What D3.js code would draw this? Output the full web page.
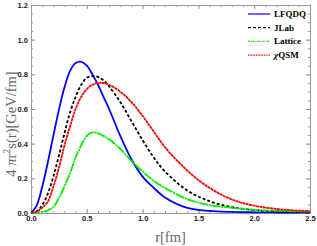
<!DOCTYPE html>
<html lang="en">
  <head>
    <meta charset="UTF-8" />
    <style>
      body { margin: 0; background: #fff; }
      .tick text { font-family: "Liberation Sans", Arial, sans-serif; font-weight: bold; font-size: 7.5px; fill: #222; }
      .tick line { stroke: #999; }
      .title { font-family: "Liberation Serif", "Times New Roman", serif; fill: #666; font-size: 14.5px; }
      .legend text { font-family: "Liberation Serif", "Times New Roman", serif; font-weight: bold; font-size: 9px; fill: #000; }
    </style>
    <title>4 pi r^2 s(r)</title>
  </head>
  <body>
    <script src="https://cdn.jsdelivr.net/npm/d3@7"></script>
    <script>
      // sample radii (fm)
      const rGrid = [0, 0.05, 0.1, 0.15, 0.2, 0.25, 0.3, 0.35, 0.4, 0.45, 0.5, 0.55, 0.6, 0.65, 0.7,
        0.8, 0.9, 1.0, 1.1, 1.2, 1.4, 1.6, 1.8, 2.0, 2.25, 2.5];

      const lfqdq = [0, 0.042, 0.15, 0.29, 0.445, 0.595, 0.725, 0.82, 0.865, 0.872, 0.85, 0.8, 0.74,
        0.67, 0.6, 0.445, 0.31, 0.21, 0.145, 0.09, 0.03, 0.012, 0.006, 0.004, 0.003, 0.002];
      const jlab = [0, 0.01, 0.045, 0.11, 0.21, 0.33, 0.46, 0.58, 0.67, 0.74, 0.78, 0.79, 0.785,
        0.765, 0.73, 0.64, 0.53, 0.42, 0.32, 0.24, 0.13, 0.068, 0.034, 0.017, 0.008, 0.004];
      const lattice = [0, 0.002, 0.006, 0.015, 0.035, 0.085, 0.155, 0.23, 0.32, 0.39, 0.445, 0.465,
        0.46, 0.445, 0.425, 0.37, 0.3, 0.24, 0.185, 0.145, 0.08, 0.045, 0.03, 0.018, 0.012, 0.008];
      const chiqsm = [0, 0.008, 0.03, 0.065, 0.15, 0.26, 0.39, 0.5, 0.6, 0.67, 0.715, 0.74, 0.75,
        0.75, 0.74, 0.7, 0.64, 0.56, 0.47, 0.38, 0.245, 0.145, 0.078, 0.042, 0.02, 0.011];

      const seriesNames = ["LFQDQ", "JLab", "Lattice", "\u03c7QSM"];
      const xTicks = [0, 0.5, 1.0, 1.5, 2.0, 2.5];
      const yTicks = [0, 0.2, 0.4, 0.6, 0.8, 1.0, 1.2];

      const width = 317;
      const height = 246;
      const margin = { left: 31, right: 7, top: 5, bottom: 33 };

      const series = [
        { name: seriesNames[0], values: lfqdq, color: "#0000ff", dash: null, key: null },
        { name: seriesNames[1], values: jlab, color: "#000000", dash: "3,2", key: "3,2" },
        { name: seriesNames[2], values: lattice, color: "#00ee00", dash: "9,0.8,2,0.8", key: "2,1,0.8,1" },
        { name: seriesNames[3], values: chiqsm, color: "#ff0000", dash: "3,0.5", key: "1,0.6" }
      ];

      const x = d3.scaleLinear().domain([0, 2.5]).range([margin.left, width - margin.right]);
      const y = d3.scaleLinear().domain([0, 1.2]).range([height - margin.bottom, margin.top]);

      const svg = d3.select("body").append("svg")
        .attr("width", width)
        .attr("height", height);

      const fmt = d3.format(".1f");
      const xMinor = d3.range(0, 2.51, 0.1);
      const yMinor = d3.range(0, 1.201, 0.05);

      function addAxis(axis, tx, ty) {
        const g = svg.append("g").attr("transform", "translate(" + tx + "," + ty + ")").call(axis);
        g.select(".domain").remove();
        return g;
      }

      // minor ticks
      addAxis(d3.axisBottom(x).tickValues(xMinor).tickFormat("").tickSize(-2), 0, y(0));
      addAxis(d3.axisTop(x).tickValues(xMinor).tickFormat("").tickSize(-2), 0, y(1.2));
      addAxis(d3.axisLeft(y).tickValues(yMinor).tickFormat("").tickSize(-2), x(0), 0);
      addAxis(d3.axisRight(y).tickValues(yMinor).tickFormat("").tickSize(-2), x(2.5), 0);

      // major ticks
      addAxis(d3.axisBottom(x).tickValues(xTicks).tickFormat(fmt).tickSize(-4).tickPadding(3), 0, y(0));
      addAxis(d3.axisTop(x).tickValues(xTicks).tickFormat("").tickSize(-4), 0, y(1.2));
      addAxis(d3.axisLeft(y).tickValues(yTicks).tickFormat(fmt).tickSize(-4).tickPadding(3), x(0), 0);
      addAxis(d3.axisRight(y).tickValues(yTicks).tickFormat("").tickSize(-4), x(2.5), 0);

      svg.append("rect")
        .attr("x", x(0) + 0.5)
        .attr("y", y(1.2) + 0.5)
        .attr("width", x(2.5) - x(0))
        .attr("height", y(0) - y(1.2))
        .attr("fill", "none")
        .attr("stroke", "#999");

      const line = d3.line()
        .x((d, i) => x(rGrid[i]))
        .y(d => y(d))
        .curve(d3.curveCatmullRom.alpha(0.5));

      svg.selectAll(".curve")
        .data(series)
        .enter()
        .append("path")
        .attr("class", "curve")
        .attr("d", d => line(d.values))
        .attr("fill", "none")
        .attr("stroke", d => d.color)
        .attr("stroke-width", 1.8)
        .attr("stroke-dasharray", d => d.dash);

      // legend
      const legend = svg.append("g").attr("class", "legend");
      series.forEach((s, i) => {
        const ly = 14 + i * 13.7;
        legend.append("line")
          .attr("x1", 248).attr("x2", 270)
          .attr("y1", ly).attr("y2", ly)
          .attr("stroke", s.color)
          .attr("stroke-width", 1.2)
          .attr("stroke-dasharray", s.key);
        const t = legend.append("text").attr("x", 274).attr("y", ly + 3);
        if (i === 3) {
          t.append("tspan").attr("font-style", "italic").text("\u03c7");
          t.append("tspan").text("QSM");
        } else {
          t.text(s.name);
        }
      });

      // axis titles
      svg.append("text")
        .attr("class", "title")
        .attr("x", (x(0) + x(2.5)) / 2)
        .attr("y", 242)
        .attr("text-anchor", "middle")
        .text("r[fm]");

      const yt = svg.append("text")
        .attr("class", "title")
        .attr("transform", "translate(16,124) rotate(-90)")
        .attr("text-anchor", "middle");
      yt.append("tspan").text("4 ");
      yt.append("tspan").attr("font-style", "italic").text("\u03c0");
      yt.append("tspan").text("r");
      yt.append("tspan").attr("font-size", "10px").attr("dy", -6).text("2");
      yt.append("tspan").attr("dy", 6).text("s(r)[GeV/fm]");
    </script>
  </body>
</html>
